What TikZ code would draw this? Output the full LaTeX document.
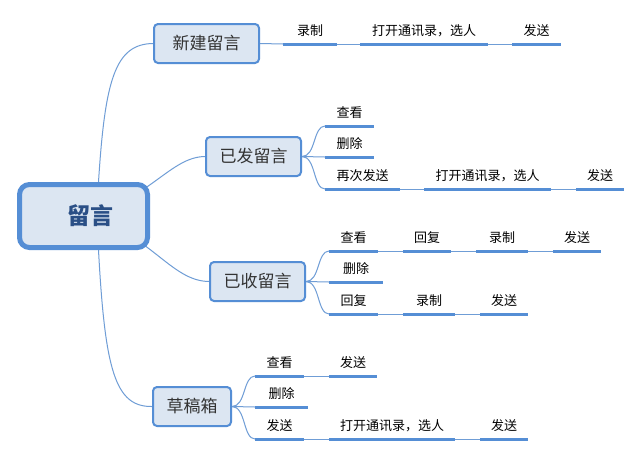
\documentclass[tikz,border=0pt]{standalone}
\usepackage{fontspec}
\setmainfont{Noto Sans CJK SC}
\usetikzlibrary{backgrounds}

\definecolor{boxfill}{HTML}{DCE6F2}
\definecolor{boxline}{HTML}{558ED5}
\definecolor{under}{HTML}{558ED5}
\definecolor{thin}{HTML}{6F9DD6}
\definecolor{roottext}{HTML}{2A4F86}
\definecolor{boxtext}{HTML}{333333}

\tikzset{
    rootbox/.style={draw=boxline, fill=boxfill, line width=5pt, rounded corners=10pt,
        minimum width=128pt, minimum height=63pt, text=roottext,
        font=\fontsize{23}{26}\selectfont\bfseries},
    topic/.style={draw=boxline, fill=boxfill, line width=2pt, rounded corners=4pt,
        minimum height=39pt, inner xsep=0pt, text=boxtext,
        font=\fontsize{17}{20}\selectfont},
    leaf/.style={anchor=south west, inner xsep=0pt, inner ysep=0pt,
        text height=10pt, text depth=8pt, font=\fontsize{13}{15}\selectfont,
        append after command={(\tikzlastnode.south west) edge[underline] (\tikzlastnode.south east)}},
    underline/.style={draw=under, line width=3pt},
    link/.style={draw=thin, line width=1pt}
}

\begin{document}
\begin{tikzpicture}[x=1pt, y=-1pt]
    \useasboundingbox (0,0) rectangle (642,456);

    % main topic and subtopics
    \node[rootbox] (root) at (83.5,216) {\hspace*{14pt}留言};
    \node[topic, minimum width=105pt] (new) at (206.5,43.5) {新建留言};
    \node[topic, minimum width=95pt] (sent) at (253.5,156.5) {已发留言};
    \node[topic, minimum width=95pt] (recv) at (257.5,281.5) {已收留言};
    \node[topic, minimum width=78pt] (draft) at (192,406.5) {草稿箱};

    % new
    \node[leaf, minimum width=54pt] (a1) at (283,44) {录制};
    \node[leaf, minimum width=128pt] (a2) at (360,44) {打开通讯录，选人};
    \node[leaf, minimum width=49pt] (a3) at (512,44) {发送};

    % sent
    \node[leaf, minimum width=49pt] (b1) at (325,126) {查看};
    \node[leaf, minimum width=49pt] (b2) at (325,157) {删除};
    \node[leaf, minimum width=75pt] (b3) at (325,189) {再次发送};
    \node[leaf, minimum width=127pt] (b4) at (424,189) {打开通讯录，选人};
    \node[leaf, minimum width=48pt] (b5) at (576,189) {发送};

    % received
    \node[leaf, minimum width=49pt] (c1) at (329,251) {查看};
    \node[leaf, minimum width=48pt] (c2) at (403,251) {回复};
    \node[leaf, minimum width=52pt] (c3) at (476,251) {录制};
    \node[leaf, minimum width=48pt] (c4) at (553,251) {发送};
    \node[leaf, minimum width=54pt] (c5) at (329,282) {删除};
    \node[leaf, minimum width=49pt] (c6) at (329,314) {回复};
    \node[leaf, minimum width=52pt] (c7) at (403,314) {录制};
    \node[leaf, minimum width=48pt] (c8) at (480,314) {发送};

    % drafts
    \node[leaf, minimum width=49pt] (d1) at (255,376) {查看};
    \node[leaf, minimum width=48pt] (d2) at (329,376) {发送};
    \node[leaf, minimum width=53pt] (d3) at (255,407) {删除};
    \node[leaf, minimum width=49pt] (d4) at (255,439) {发送};
    \node[leaf, minimum width=126pt] (d5) at (329,439) {打开通讯录，选人};
    \node[leaf, minimum width=48pt] (d6) at (480,439) {发送};

    \begin{scope}[on background layer]
        \fill[white] (0,0) rectangle (642,456);

        % root to subtopics
        \draw[link] ([xshift=15pt]root.north) .. controls (105,80) and (115,44) .. (new.west);
        \draw[link] (root.center) .. controls (150,200) and (170,157) .. (sent.west);
        \draw[link] (root.center) .. controls (150,232) and (170,281) .. (recv.west);
        \draw[link] ([xshift=15pt]root.south) .. controls (105,370) and (115,407) .. (draft.west);

        % subtopics to leaves
        \draw[link] (new.east) -- (a1.south west);
        \draw[link] (sent.east) .. controls +(14,0) and +(-12,0) .. (b1.south west);
        \draw[link] (sent.east) -- (b2.south west);
        \draw[link] (sent.east) .. controls +(14,0) and +(-12,0) .. (b3.south west);
        \draw[link] (recv.east) .. controls +(14,0) and +(-12,0) .. (c1.south west);
        \draw[link] (recv.east) -- (c5.south west);
        \draw[link] (recv.east) .. controls +(14,0) and +(-12,0) .. (c6.south west);
        \draw[link] (draft.east) .. controls +(14,0) and +(-12,0) .. (d1.south west);
        \draw[link] (draft.east) -- (d3.south west);
        \draw[link] (draft.east) .. controls +(14,0) and +(-12,0) .. (d4.south west);

        % leaf to leaf
        \foreach \p/\q in {a1/a2, a2/a3, b3/b4, b4/b5, c1/c2, c2/c3, c3/c4,
                           c6/c7, c7/c8, d1/d2, d4/d5, d5/d6}
            \draw[link] (\p.south east) -- (\q.south west);
    \end{scope}
\end{tikzpicture}
\end{document}
